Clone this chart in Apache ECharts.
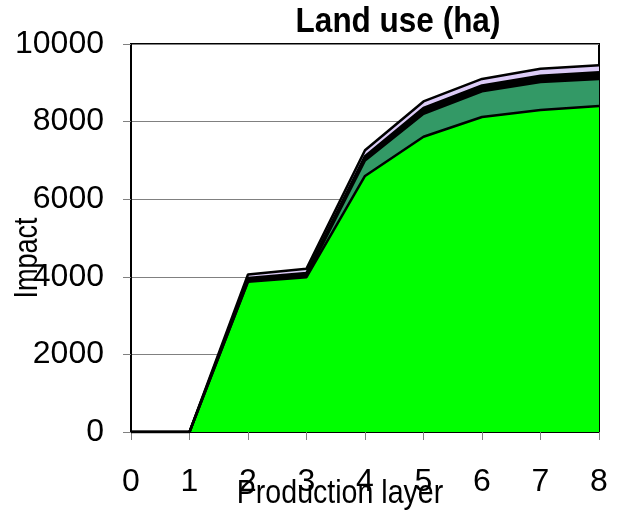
<!DOCTYPE html>
<html><head><meta charset="utf-8">
<script src="https://cdn.jsdelivr.net/npm/echarts@6/dist/echarts.min.js"></script>
<style>html,body{margin:0;padding:0;background:#fff}#c{width:628px;height:513px}</style>
</head><body><div id="c"></div>
<script>
const categories = ['0','1','2','3','4','5','6','7','8'];
const yTicks = [0, 2000, 4000, 6000, 8000, 10000];
const layerGreen = [0, 0, 3870, 3990, 6600, 7610, 8120, 8300, 8400];
const layerDarkGreen = [0, 0, 20, 30, 400, 590, 660, 720, 700];
const layerBlack = [0, 0, 80, 80, 110, 150, 150, 160, 170];
const layerLavender = [0, 0, 90, 110, 150, 170, 170, 180, 180];

const chart = echarts.init(document.getElementById('c'), null, {renderer: 'canvas'});
function mk(name, data, color) {
  return {
    name, type: 'line', stack: 'total', data,
    showSymbol: false, symbol: 'none',
    lineStyle: {color: '#000', width: 2.5},
    areaStyle: {color: color, opacity: 1},
    emphasis: {disabled: true}
  };
}
const FONT = '"Liberation Sans", Arial, sans-serif';
chart.setOption({
  animation: false,
  backgroundColor: '#fff',
  grid: {left: 131, right: 29, top: 44, bottom: 81, show: true, borderColor: '#000', borderWidth: 2, backgroundColor: 'transparent'},
  xAxis: {
    type: 'category', data: categories, boundaryGap: false,
    axisLine: {lineStyle: {color: '#000', width: 2}},
    axisTick: {show: true, alignWithLabel: true, length: 8, lineStyle: {color: '#808080'}},
    axisLabel: {margin: 34, fontFamily: FONT, fontSize: 32, color: '#000'},
    splitLine: {show: false}
  },
  yAxis: {
    type: 'value', min: yTicks[0], max: yTicks[yTicks.length - 1], interval: 2000,
    axisLine: {show: true, lineStyle: {color: '#000', width: 2}},
    axisTick: {show: true, length: 8, lineStyle: {color: '#808080'}},
    axisLabel: {margin: 27, fontFamily: FONT, fontSize: 32, color: '#000', formatter: v => String(v)},
    splitLine: {show: true, lineStyle: {color: '#808080', width: 1}}
  },
  graphic: [
    {type: 'text', x: 398, y: 22, scaleX: 0.9,
     style: {text: 'Land use (ha)', fontFamily: FONT, fontWeight: 'bold', fontSize: 35, fill: '#000', textAlign: 'center', textVerticalAlign: 'middle'}},
    {type: 'text', x: 28, y: 258, rotation: Math.PI / 2, scaleX: 0.82,
     style: {text: 'Impact', fontFamily: FONT, fontSize: 33, fill: '#000', textAlign: 'center', textVerticalAlign: 'middle'}},
    {type: 'text', x: 340, y: 494, scaleX: 0.84,
     style: {text: 'Production layer', fontFamily: FONT, fontSize: 34, fill: '#000', textAlign: 'center', textVerticalAlign: 'middle'}}
  ],
  series: [
    mk('A', layerGreen, '#00ff00'),
    mk('B', layerDarkGreen, '#339966'),
    mk('C', layerBlack, '#000000'),
    mk('D', layerLavender, '#dccbf7')
  ]
});
</script></body></html>
